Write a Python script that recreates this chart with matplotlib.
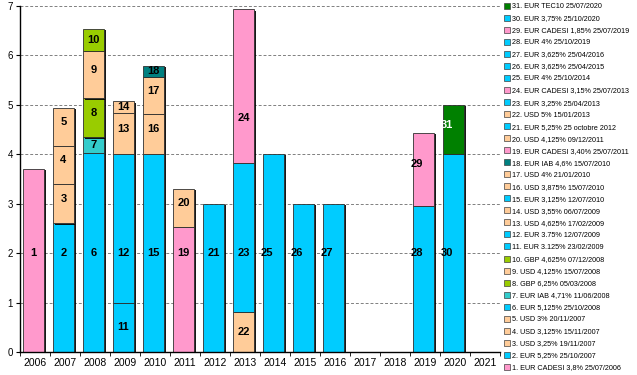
import matplotlib
matplotlib.use("Agg")
import matplotlib.pyplot as plt
import matplotlib.patheffects as pe
from matplotlib.lines import Line2D

plt.rcParams['font.family'] = ['Liberation Sans', 'DejaVu Sans']

# === Données ===
years = list(range(2006, 2022))

bond_num = list(range(1, 32))
bond_year = [2006, 2007, 2007, 2007, 2007, 2008, 2008, 2008, 2008, 2008,
             2009, 2009, 2009, 2009, 2010, 2010, 2010, 2010, 2011, 2011,
             2012, 2013, 2013, 2013, 2014, 2015, 2016, 2019, 2019, 2020, 2020]
amounts = [3.7, 2.6, 0.8, 0.77, 0.77, 4.03, 0.31, 0.79, 0.96, 0.44,
           1.0, 3.0, 0.83, 0.24, 4.0, 0.81, 0.76, 0.22, 2.53, 0.77,
           3.0, 0.81, 3.02, 3.1, 4.0, 3.0, 3.0, 2.95, 1.49, 4.0, 1.0]
bond_kind = ['cadesi', 'eur', 'usd', 'usd', 'usd', 'eur', 'iab', 'gbp', 'usd', 'gbp',
             'eur', 'eur', 'usd', 'usd', 'eur', 'usd', 'usd', 'iab2', 'cadesi', 'usd',
             'eur', 'usd', 'eur', 'cadesi', 'eur', 'eur', 'eur', 'eur', 'cadesi', 'eur', 'tec']
bond_labels = [
    "1. EUR CADESI 3,8% 25/07/2006",
    "2. EUR 5,25% 25/10/2007",
    "3. USD 3,25% 19/11/2007",
    "4. USD 3,125% 15/11/2007",
    "5. USD 3% 20/11/2007",
    "6. EUR 5,125% 25/10/2008",
    "7. EUR IAB 4,71% 11/06/2008",
    "8. GBP 6,25% 05/03/2008",
    "9. USD 4,125% 15/07/2008",
    "10. GBP 4,625% 07/12/2008",
    "11. EUR 3.125% 23/02/2009",
    "12. EUR 3.75% 12/07/2009",
    "13. USD 4,625% 17/02/2009",
    "14. USD 3,55% 06/07/2009",
    "15. EUR 3,125% 12/07/2010",
    "16. USD 3,875% 15/07/2010",
    "17. USD 4% 21/01/2010",
    "18. EUR IAB 4,6% 15/07/2010",
    "19. EUR CADESI 3,40% 25/07/2011",
    "20. USD 4,125% 09/12/2011",
    "21. EUR 5,25% 25 octobre 2012",
    "22. USD 5% 15/01/2013",
    "23. EUR 3,25% 25/04/2013",
    "24. EUR CADESI 3,15% 25/07/2013",
    "25. EUR 4% 25/10/2014",
    "26. EUR 3,625% 25/04/2015",
    "27. EUR 3,625% 25/04/2016",
    "28. EUR 4% 25/10/2019",
    "29. EUR CADESI 1,85% 25/07/2019",
    "30. EUR 3,75% 25/10/2020",
    "31. EUR TEC10 25/07/2020",
]

kind_colors = {
    'cadesi': '#FF99CC',
    'eur': '#00CCFF',
    'usd': '#FFCC99',
    'gbp': '#99CC00',
    'iab': '#33CCCC',
    'iab2': '#008080',
    'tec': '#008000',
}

# === Figure ===
fig = plt.figure(figsize=(6.37, 3.75), dpi=100)
ax = fig.add_axes([20 / 637, 23 / 375, 480 / 637, 346 / 375])

ax.set_ylim(0, 7)
ax.set_xlim(-0.5, len(years) - 0.5)
ax.yaxis.grid(True, color='#808080', linestyle=(0, (3, 2)), linewidth=0.7)
ax.set_axisbelow(True)


def label_y(bottom, height):
    # position des étiquettes comme dans le graphique Excel d'origine
    if height > 1.5 and bottom < 2 < bottom + height:
        return 2.0
    if height > 2.5:
        return bottom + 0.9
    if height > 0.5 and bottom > 0:
        return bottom + height / 2 + 0.1
    return bottom + height / 2


stack = {y: 0.0 for y in years}
for num, yr, val, kind in zip(bond_num, bond_year, amounts, bond_kind):
    xi = years.index(yr) - 0.05
    bottom = stack[yr]
    ax.bar(xi, val, bottom=bottom, width=0.7, color=kind_colors[kind],
           edgecolor='#303030', linewidth=0.6,
           path_effects=[pe.SimplePatchShadow(offset=(1.5, -0.8), shadow_rgbFace='black', alpha=0.9),
                         pe.Normal()])
    dx = -0.22 if yr >= 2014 else 0
    ax.text(xi + dx, label_y(bottom, val), str(num), ha='center', va='center',
            fontsize=8, fontweight='bold', color='white' if kind == 'tec' else 'black')
    stack[yr] = bottom + val

# axes
ax.spines['top'].set_visible(False)
ax.spines['right'].set_visible(False)
ax.spines['left'].set_linewidth(1.0)
ax.spines['bottom'].set_linewidth(1.0)
ax.set_yticks(range(0, 8))
ax.tick_params(axis='y', labelsize=7, length=3, pad=2)
ax.set_xticks(range(len(years)))
ax.set_xticklabels([str(y) for y in years], fontsize=7.5)
ax.set_xticks([i - 0.5 for i in range(len(years) + 1)], minor=True)
ax.tick_params(axis='x', which='major', length=0, pad=4)
ax.tick_params(axis='x', which='minor', length=3)

# === Légende ===
handles = [Line2D([], [], linestyle='none', marker='s', markersize=4,
                  markerfacecolor=kind_colors[k], markeredgecolor='#404040', markeredgewidth=0.5)
           for k in bond_kind]
fig.legend(handles[::-1], bond_labels[::-1], loc='upper left', bbox_to_anchor=(500 / 637, 1.005),
           frameon=False, fontsize=5.2, labelspacing=0.69, handlelength=0.6, handletextpad=0.3,
           borderpad=0.2)

fig.savefig('out.png', dpi=100)
